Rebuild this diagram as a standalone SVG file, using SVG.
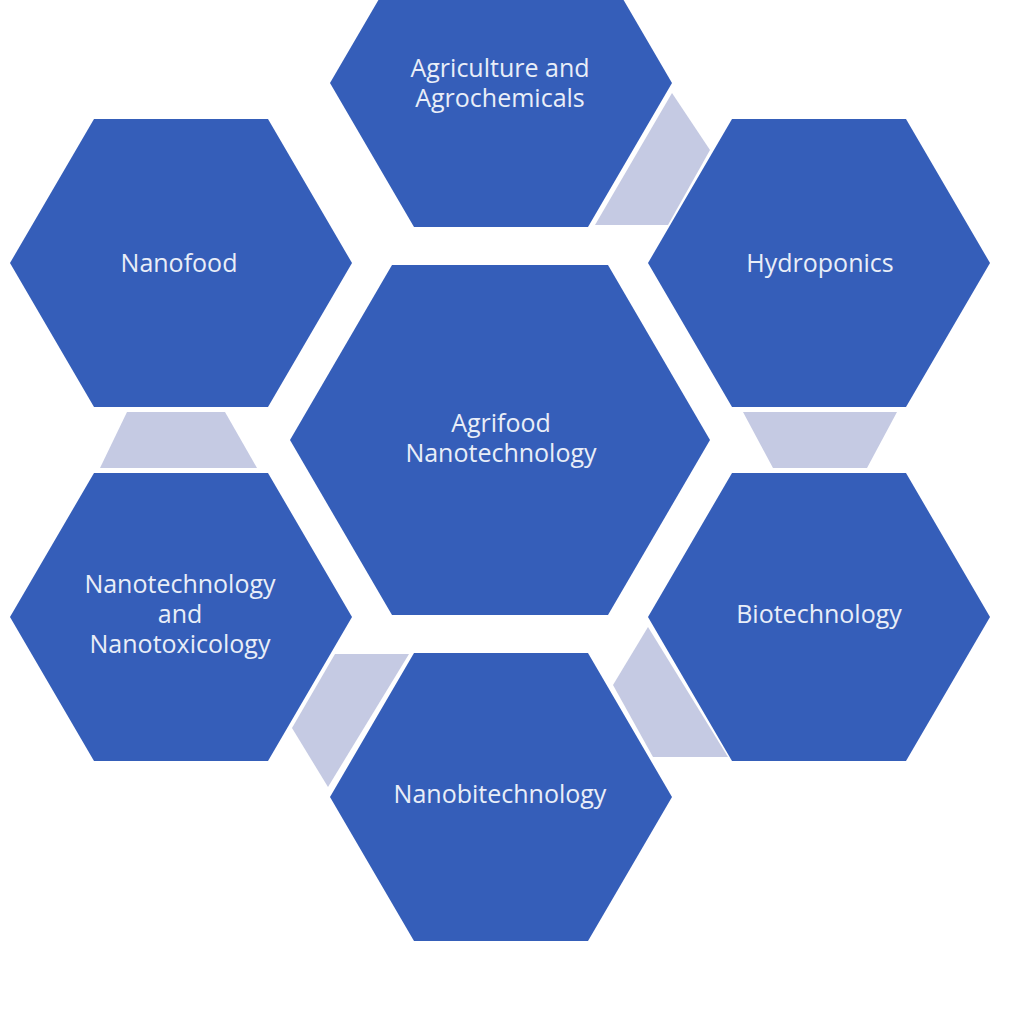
<svg xmlns="http://www.w3.org/2000/svg" width="1024" height="1024" viewBox="0 0 1024 1024">
<style>
.hex{fill:#355EB9;}
.link{fill:#C5CAE3;}
.lbl{font-family:"Open Sans","Liberation Sans",sans-serif;font-size:25px;fill:#E9EEF8;text-anchor:middle;}
</style>
<rect width="1024" height="1024" fill="#FFFFFF"/>
<g id="connectors">
<polygon class="link" points="672,93 710,150 668,225 595,225"/>
<polygon class="link" points="743,412 897,412 867,468 773,468"/>
<polygon class="link" points="648,627 728,757 653,757 613,685"/>
<polygon class="link" points="335,654 409,654 328,787 292,728"/>
<polygon class="link" points="127,412 225,412 257,468 100,468"/>
</g>
<g id="center">
<polygon class="hex" points="290,440 392,265 608,265 710,440 608,615 392,615"/>
<text class="lbl" x="501" y="432">Agrifood<tspan x="501" dy="30">Nanotechnology</tspan></text>
</g>
<g id="agriculture">
<polygon class="hex" points="330,83 414,-61 588,-61 672,83 588,227 414,227"/>
<text class="lbl" x="500" y="77">Agriculture and<tspan x="500" dy="30">Agrochemicals</tspan></text>
</g>
<g id="hydroponics">
<polygon class="hex" points="648,263 732,119 906,119 990,263 906,407 732,407"/>
<text class="lbl" x="820" y="272">Hydroponics</text>
</g>
<g id="biotechnology">
<polygon class="hex" points="648,617 732,473 906,473 990,617 906,761 732,761"/>
<text class="lbl" x="819" y="623">Biotechnology</text>
</g>
<g id="nanobitechnology">
<polygon class="hex" points="330,797 414,653 588,653 672,797 588,941 414,941"/>
<text class="lbl" x="500" y="803">Nanobitechnology</text>
</g>
<g id="nanotoxicology">
<polygon class="hex" points="10,617 94,473 268,473 352,617 268,761 94,761"/>
<text class="lbl" x="180" y="593">Nanotechnology<tspan x="180" dy="30">and</tspan><tspan x="180" dy="30">Nanotoxicology</tspan></text>
</g>
<g id="nanofood">
<polygon class="hex" points="10,263 94,119 268,119 352,263 268,407 94,407"/>
<text class="lbl" x="179" y="272">Nanofood</text>
</g>
</svg>
